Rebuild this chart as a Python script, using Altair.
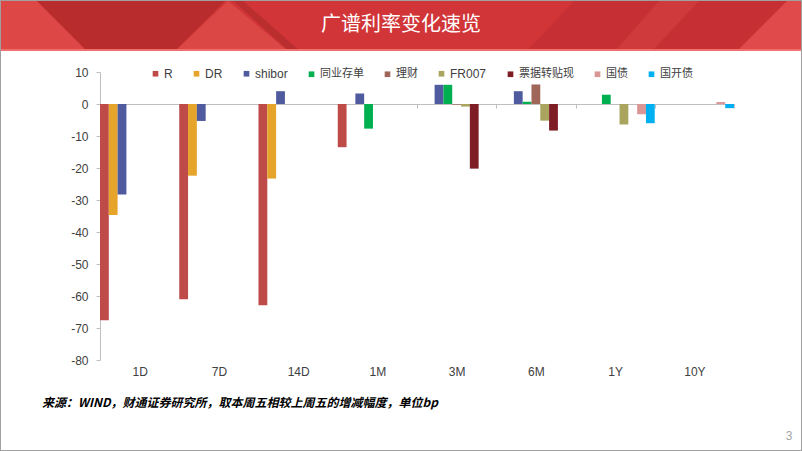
import altair as alt
import pandas as pd

# ---------------- data ----------------
categories = ["1D", "7D", "14D", "1M", "3M", "6M", "1Y", "10Y"]
series = ["R", "DR", "shibor", "同业存单", "理财", "FR007", "票据转贴现", "国债", "国开债"]
colors = ["#BE4B48", "#E6A42A", "#4F5B9E", "#00B050", "#A0665A",
          "#A9A45E", "#7E1E24", "#D99694", "#00B0F0"]

r_vals = [-67.6, -61.0, -62.9, -13.5, 0, 0, 0, 0]
dr_vals = [-34.7, -22.4, -23.3, 0, 0, 0, 0, 0]
shibor_vals = [-28.3, -5.3, 4.0, 3.3, 6.0, 4.0, 0, 0]
ncd_vals = [0, 0, 0, -7.7, 6.0, 0.7, 2.9, 0]
wm_vals = [0, 0, 0, 0, -0.2, 6.1, 0, 0]
fr007_vals = [0, 0, 0, 0, -0.8, -5.2, -6.4, 0]
bill_vals = [0, 0, 0, 0, -20.2, -8.3, 0, 0]
gov_vals = [0, 0, 0, 0, 0, 0, -3.2, 0.6]
cdb_vals = [0, 0, 0, 0, 0, 0, -6.0, -1.3]

series_values = [r_vals, dr_vals, shibor_vals, ncd_vals, wm_vals,
                 fr007_vals, bill_vals, gov_vals, cdb_vals]

title_text = "广谱利率变化速览"
note_text = "来源：WIND，财通证券研究所，取本周五相较上周五的增减幅度，单位bp"
page_text = "3"

rows = []
for s, vals in zip(series, series_values):
    for c, v in zip(categories, vals):
        if v != 0:
            rows.append({"期限": c, "品种": s, "变化": v})
df = pd.DataFrame(rows)

# ---------------- layout ----------------
PAD_L, PAD_T = 100, 72
W, H = 634, 288
one = pd.DataFrame({"k": [0]})

LATIN_CJK = "Liberation Sans, Arial, Noto Sans CJK SC"

def shape_layer(path, color):
    return alt.Chart(one).mark_point(
        shape=path, size=4, filled=True, opacity=1, strokeWidth=0, color=color
    ).encode(x=alt.value(-PAD_L), y=alt.value(-PAD_T))

def rect_layer(x1, y1, x2, y2, **kw):
    return alt.Chart(one).mark_rect(**kw).encode(
        x=alt.value(x1 - PAD_L), x2=alt.value(x2 - PAD_L),
        y=alt.value(y1 - PAD_T), y2=alt.value(y2 - PAD_T))

# banner
banner = [
    rect_layer(0, 0, 802, 51, color="#D13538"),
    shape_layer("M0,0 L36,0 L87,51 L0,51 Z", "#DD4846"),
    shape_layer("M36,0 L226,0 L175,51 L87,51 Z", "#B92C2E"),
    shape_layer("M175,51 L228,1 L288,51 Z", "#DA4745"),
    shape_layer("M232,0 L242,0 L300,51 L289,51 Z", "#BA2E30"),
    shape_layer("M527,51 L575,0 L802,0 L802,51 Z", "#C62F33"),
    shape_layer("M615,51 L660,0 L700,0 L652,51 Z", "#CF3A3C"),
    shape_layer("M737,51 L788,0 L802,0 L802,51 Z", "#E04A4A"),
    rect_layer(0, 49, 802, 51, color="#F07070"),
]

title = alt.Chart(one).mark_text(
    text=title_text, font="Noto Sans CJK SC", fontSize=20, color="white",
    align="center", baseline="middle"
).encode(x=alt.value(401 - PAD_L), y=alt.value(25 - PAD_T))

border = rect_layer(0, 0, 802, 451, filled=False, stroke="#A0A0A0", strokeWidth=2)

size_expr = ("(datum.label == 'R' || datum.label == 'DR' || datum.label == 'shibor'"
             " || datum.label == 'FR007') ? 12 : 11")

bars = alt.Chart(df).mark_bar().encode(
    x=alt.X("期限:N", sort=categories,
            scale=alt.Scale(domain=categories, paddingInner=0, paddingOuter=0),
            axis=alt.Axis(title=None, orient="bottom", offset=-256,
                          tickBand="extent", tickSize=4, tickColor="#BFBFBF",
                          domainColor="#BFBFBF", labelPadding=258, labelAngle=0,
                          labelFont=LATIN_CJK, labelFontSize=12, labelColor="#404040")),
    xOffset=alt.XOffset("品种:N", sort=series,
                        scale=alt.Scale(domain=series, paddingInner=0, paddingOuter=0)),
    y=alt.Y("变化:Q", scale=alt.Scale(domain=[-80, 10], nice=False),
            axis=alt.Axis(title=None, values=list(range(-80, 11, 10)), grid=False,
                          tickSize=4, tickColor="#BFBFBF", domainColor="#BFBFBF",
                          labelExpr="toString(datum.value)",
                          labelPadding=8, labelFont=LATIN_CJK, labelFontSize=12,
                          labelColor="#404040")),
    color=alt.Color("品种:N", sort=series,
                    scale=alt.Scale(domain=series, range=colors),
                    legend=alt.Legend(title=None, orient="none", legendX=50, legendY=-4,
                                      direction="horizontal", columns=9,
                                      symbolType="square", symbolSize=32,
                                      symbolStrokeWidth=0, labelFont=LATIN_CJK,
                                      labelFontSize={"expr": size_expr},
                                      labelColor="#404040",
                                      columnPadding=18, labelOffset=3)),
)

note = alt.Chart(one).mark_text(
    text=note_text, font="Noto Sans CJK SC", fontSize=12, fontStyle="italic",
    fontWeight="bold", color="#000000", align="left", baseline="middle"
).encode(x=alt.value(42 - PAD_L), y=alt.value(403 - PAD_T))

page = alt.Chart(one).mark_text(
    text=page_text, font="Liberation Sans", fontSize=12, color="#A6A6A6",
    align="center", baseline="middle"
).encode(x=alt.value(789 - PAD_L), y=alt.value(436 - PAD_T))

chart = alt.layer(*banner, title, bars, note, page, border).properties(
    width=W, height=H,
    padding={"left": PAD_L, "top": PAD_T, "right": 802 - PAD_L - W, "bottom": 451 - PAD_T - H},
    autosize=alt.AutoSizeParams(type="none"),
    background="white",
).configure_view(stroke=None)

chart.save("out.html", embed_options={"renderer": "svg", "actions": False})
